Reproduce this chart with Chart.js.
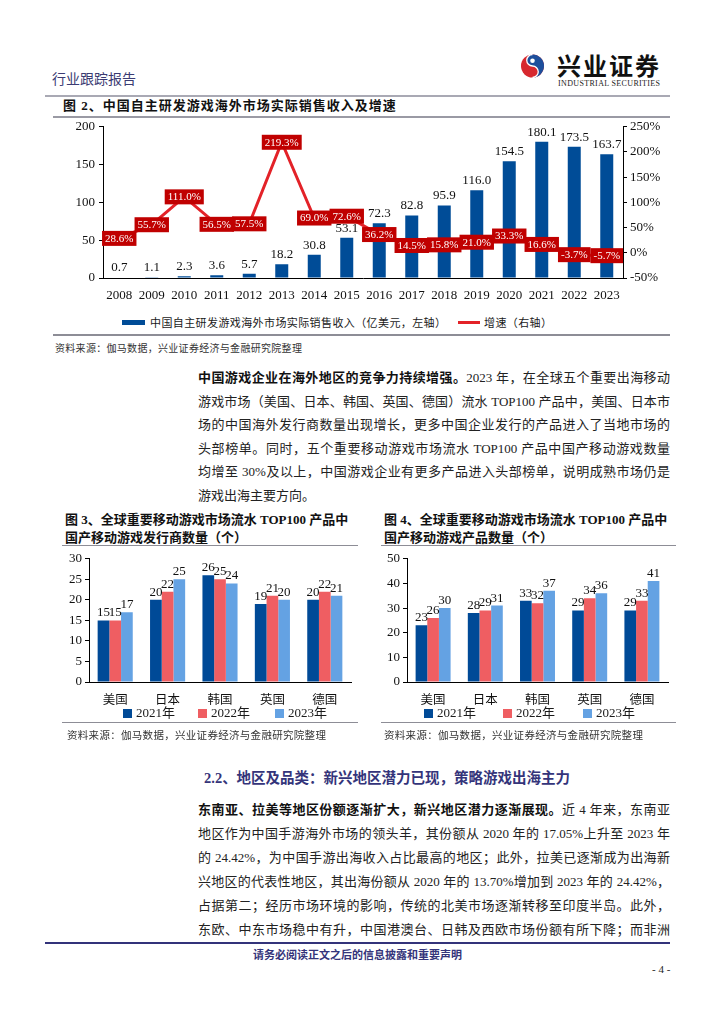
<!DOCTYPE html>
<html>
<head>
<meta charset="utf-8">
<script src="https://cdn.jsdelivr.net/npm/chart.js@4.4.1/dist/chart.umd.min.js"></script>
<style>
  body { margin: 0; background: #fff; }
  #page { position: relative; width: 724px; height: 1024px; overflow: hidden;
          font-family: "Liberation Serif", "Noto Sans CJK SC", serif; color: #1a1a1a; }
  .abs { position: absolute; white-space: nowrap; }
  .rule { position: absolute; height: 0; }
  .line { position: absolute; left: 198px; width: 472px; font-size: 13px; line-height: 20px; color: #222;
          text-align: justify; text-align-last: justify; white-space: nowrap; }
  .line.last { text-align-last: left; }
  .b { font-weight: bold; color: #111; }
  .ftitle { font-size: 13px; font-weight: bold; line-height: 18px; color: #111; }
  .src { font-size: 10px; color: #333; letter-spacing: 0.3px; }
  .leg { font-size: 13px; line-height: 14px; }
  .sw { display: inline-block; width: 9px; height: 9px; margin-right: 4px; vertical-align: -1px; }
  canvas { position: absolute; }
</style>
</head>
<body>
<div id="page">
  <!-- header -->
  <div class="abs" style="left:52px;top:68px;font-size:14px;color:#3b3b72;font-family:'Noto Sans CJK SC';">行业跟踪报告</div>
  <svg class="abs" style="left:521px;top:53px" width="23" height="26" viewBox="0 0 24 26">
    <circle cx="12" cy="13" r="12" fill="#d7282f"/>
    <path d="M12 1 A12 12 0 0 1 12 25 A6 6 0 0 0 12 13 A6 6 0 0 1 12 1 Z" fill="#1d4f9c"/>
    <path d="M12 1 A6 6 0 0 0 12 13 A6 6 0 0 1 12 25" fill="none" stroke="#fff" stroke-width="1.4"/>
    <circle cx="12" cy="7.5" r="2.4" fill="#fff"/>
  </svg>
  <div class="abs" style="left:557px;top:47px;font-size:24px;font-weight:bold;letter-spacing:2px;color:#111;font-family:'Noto Sans CJK SC';">兴业证券</div>
  <div class="abs" style="left:558px;top:79px;font-size:8px;letter-spacing:0.35px;color:#222;">INDUSTRIAL SECURITIES</div>
  <div class="rule" style="left:45px;width:625px;top:95px;border-top:2px solid #a9a9b4"></div>

  <!-- figure 2 -->
  <div class="abs ftitle" style="left:63px;top:97px;letter-spacing:1px">图 2、中国自主研发游戏海外市场实际销售收入及增速</div>
  <div class="rule" style="left:53px;width:617px;top:116px;border-top:2px solid #9a9aa4"></div>
  <canvas id="c1" width="620" height="190" style="left:55px;top:115px"></canvas>
  <div class="abs" style="left:122px;top:320px;width:23px;height:5px;background:#004c97"></div>
  <div class="abs" style="left:150px;top:314px;font-size:11px;line-height:16px;letter-spacing:0.4px;font-family:'Noto Sans CJK SC'">中国自主研发游戏海外市场实际销售收入（亿美元，左轴）</div>
  <div class="abs" style="left:458px;top:321px;width:22px;height:3px;background:#e32228"></div>
  <div class="abs" style="left:484px;top:314px;font-size:11px;line-height:16px;letter-spacing:0.4px;font-family:'Noto Sans CJK SC'">增速（右轴）</div>
  <div class="rule" style="left:53px;width:617px;top:334px;border-top:2px solid #8d8d96"></div>
  <div class="abs src" style="left:55px;top:340px">资料来源：伽马数据，兴业证券经济与金融研究院整理</div>

  <!-- paragraph 1 -->
  <div class="line" style="top:368px"><span class="b">中国游戏企业在海外地区的竞争力持续增强。</span>2023 年，在全球五个重要出海移动</div>
  <div class="line" style="top:392px">游戏市场（美国、日本、韩国、英国、德国）流水 TOP100 产品中，美国、日本市</div>
  <div class="line" style="top:415px">场的中国海外发行商数量出现增长，更多中国企业发行的产品进入了当地市场的</div>
  <div class="line" style="top:439px">头部榜单。同时，五个重要移动游戏市场流水 TOP100 产品中国产移动游戏数量</div>
  <div class="line" style="top:462px">均增至 30%及以上，中国游戏企业有更多产品进入头部榜单，说明成熟市场仍是</div>
  <div class="line last" style="top:486px">游戏出海主要方向。</div>

  <!-- figure 3 -->
  <div class="abs ftitle" style="left:65px;top:511px">图 3、全球重要移动游戏市场流水 TOP100 产品中</div>
  <div class="abs ftitle" style="left:65px;top:529px">国产移动游戏发行商数量（个）</div>
  <div class="rule" style="left:62px;width:296px;top:545px;border-top:1.5px solid #8d8d96"></div>
  <canvas id="c3" width="310" height="172" style="left:55px;top:548px"></canvas>
  <div class="abs leg" style="left:123px;top:706px"><span class="sw" style="background:#004a97"></span>2021年</div>
  <div class="abs leg" style="left:198px;top:706px"><span class="sw" style="background:#ef5e62"></span>2022年</div>
  <div class="abs leg" style="left:275px;top:706px"><span class="sw" style="background:#64a2e3"></span>2023年</div>
  <div class="rule" style="left:62px;width:296px;top:722px;border-top:1.5px solid #8d8d96"></div>
  <div class="abs src" style="left:67px;top:727px;font-size:10.5px">资料来源：伽马数据，兴业证券经济与金融研究院整理</div>

  <!-- figure 4 -->
  <div class="abs ftitle" style="left:384px;top:511px">图 4、全球重要移动游戏市场流水 TOP100 产品中</div>
  <div class="abs ftitle" style="left:384px;top:529px">国产移动游戏产品数量（个）</div>
  <div class="rule" style="left:381px;width:295px;top:545px;border-top:1.5px solid #8d8d96"></div>
  <canvas id="c4" width="310" height="172" style="left:374px;top:548px"></canvas>
  <div class="abs leg" style="left:424px;top:706px"><span class="sw" style="background:#004a97"></span>2021年</div>
  <div class="abs leg" style="left:503px;top:706px"><span class="sw" style="background:#ef5e62"></span>2022年</div>
  <div class="abs leg" style="left:583px;top:706px"><span class="sw" style="background:#64a2e3"></span>2023年</div>
  <div class="rule" style="left:381px;width:295px;top:722px;border-top:1.5px solid #8d8d96"></div>
  <div class="abs src" style="left:384px;top:727px;font-size:10.5px">资料来源：伽马数据，兴业证券经济与金融研究院整理</div>

  <!-- section 2.2 -->
  <div class="abs" style="left:204px;top:766px;font-size:14.5px;font-weight:bold;color:#34347a">2.2、地区及品类：新兴地区潜力已现，策略游戏出海主力</div>
  <div class="line" style="top:800px"><span class="b">东南亚、拉美等地区份额逐渐扩大，新兴地区潜力逐渐展现。</span>近 4 年来，东南亚</div>
  <div class="line" style="top:824px">地区作为中国手游海外市场的领头羊，其份额从 2020 年的 17.05%上升至 2023 年</div>
  <div class="line" style="top:848px">的 24.42%，为中国手游出海收入占比最高的地区；此外，拉美已逐渐成为出海新</div>
  <div class="line" style="top:872px">兴地区的代表性地区，其出海份额从 2020 年的 13.70%增加到 2023 年的 24.42%，</div>
  <div class="line" style="top:896px">占据第二；经历市场环境的影响，传统的北美市场逐渐转移至印度半岛。此外，</div>
  <div class="line" style="top:920px">东欧、中东市场稳中有升，中国港澳台、日韩及西欧市场份额有所下降；而非洲</div>

  <!-- footer -->
  <div class="rule" style="left:45px;width:625px;top:942px;border-top:2px solid #33337a"></div>
  <div class="abs" style="left:253px;top:946px;font-size:11px;font-weight:bold;color:#34347a;font-family:'Noto Sans CJK SC'">请务必阅读正文之后的信息披露和重要声明</div>
  <div class="abs" style="left:652px;top:963px;font-size:11px;color:#222">- 4 -</div>
</div>

<script>
// figure 2 data
const years = ['2008','2009','2010','2011','2012','2013','2014','2015','2016','2017','2018','2019','2020','2021','2022','2023']
const revenue = [0.7, 1.1, 2.3, 3.6, 5.7, 18.2, 30.8, 53.1, 72.3, 82.8, 95.9, 116.0, 154.5, 180.1, 173.5, 163.7]
const growth = [28.6, 55.7, 111.0, 56.5, 57.5, 219.3, 69.0, 72.6, 36.2, 14.5, 15.8, 21.0, 33.3, 16.6, -3.7, -5.7]
const leftTicks = [0, 200, 50]      // min, max, step
const rightTicks = [-50, 250, 50]

// figure 3 / 4 data
const markets = ['美国', '日本', '韩国', '英国', '德国']
const publishers2021 = [15, 20, 26, 19, 20]
const publishers2022 = [15, 22, 25, 21, 22]
const publishers2023 = [17, 25, 24, 20, 21]
const products2021 = [23, 28, 33, 29, 29]
const products2022 = [26, 29, 32, 34, 33]
const products2023 = [30, 31, 37, 36, 41]

const SERIF = '"Liberation Serif", "Noto Sans CJK SC", serif'
Chart.defaults.font.family = SERIF
Chart.defaults.color = '#111'
Chart.defaults.animation = false

// draws value labels; a dataset opts in with labelStyle
const valueLabels = {
    id: 'valueLabels',
    afterDatasetsDraw(chart){
        const ctx = chart.ctx
        chart.data.datasets.forEach((ds, i) => {
            const st = ds.labelStyle
            if(!st) return
            const meta = chart.getDatasetMeta(i)
            meta.data.forEach((el, j) => {
                const txt = st.format(ds.data[j])
                ctx.save()
                ctx.font = st.font
                ctx.textAlign = 'center'
                if(st.box){
                    const w = ctx.measureText(txt).width + 6
                    const h = 15
                    ctx.fillStyle = st.box
                    ctx.fillRect(el.x - w/2, el.y - h/2, w, h)
                    ctx.fillStyle = '#fff'
                    ctx.textBaseline = 'middle'
                    ctx.fillText(txt, el.x, el.y + 0.5)
                } else {
                    ctx.fillStyle = st.color
                    ctx.textBaseline = 'bottom'
                    ctx.fillText(txt, el.x, el.y - st.offset)
                }
                ctx.restore()
            })
        })
    }
}

function fixWidth(w){ return scale => { scale.width = w } }
function fixHeight(h){ return scale => { scale.height = h } }

new Chart(document.getElementById('c1').getContext('2d'), {
    type: 'bar',
    data: {
        labels: years,
        datasets: [{
            type: 'bar',
            label: '中国自主研发游戏海外市场实际销售收入（亿美元，左轴）',
            data: revenue,
            yAxisID: 'y',
            backgroundColor: '#004c97',
            barPercentage: 0.4,
            categoryPercentage: 1,
            order: 1,
            labelStyle: { font: '13px ' + SERIF, color: '#111', offset: 3, format: v => v.toFixed(1) }
        }, {
            type: 'line',
            label: '增速（右轴）',
            data: growth,
            yAxisID: 'y1',
            borderColor: '#e32228',
            borderWidth: 3,
            pointRadius: 0,
            tension: 0,
            order: 0,
            labelStyle: { font: '11px ' + SERIF, box: '#c00000', format: v => v.toFixed(1) + '%' }
        }]
    },
    options: {
        responsive: false,
        layout: { padding: { top: 10, bottom: 0, left: 0, right: 0 } },
        plugins: { legend: { display: false }, tooltip: { enabled: false } },
        scales: {
            x: {
                grid: { display: false },
                border: { display: true, color: '#000' },
                ticks: { font: { size: 13 }, padding: 2, maxRotation: 0, autoSkip: false },
                afterFit: fixHeight(27)
            },
            y: {
                position: 'left',
                min: leftTicks[0], max: leftTicks[1],
                ticks: { stepSize: leftTicks[2], font: { size: 13 }, padding: 4 },
                grid: { drawOnChartArea: false, tickLength: 4, color: '#000' },
                border: { color: '#000' },
                afterFit: fixWidth(48)
            },
            y1: {
                position: 'right',
                min: rightTicks[0], max: rightTicks[1],
                ticks: { stepSize: rightTicks[2], font: { size: 13 }, padding: 3, callback: v => v + '%' },
                grid: { drawOnChartArea: false, tickLength: 4, color: '#000' },
                border: { color: '#000' },
                afterFit: fixWidth(52)
            }
        }
    },
    plugins: [valueLabels]
})

function groupChart(id, a, b, c, max, step, leftW, rightPad){
    const lab = { font: '13px ' + SERIF, color: '#111', offset: 1, format: v => String(v) }
    const common = { barPercentage: 1, categoryPercentage: 0.67, borderWidth: 0, labelStyle: lab }
    return new Chart(document.getElementById(id).getContext('2d'), {
        type: 'bar',
        data: {
            labels: markets,
            datasets: [
                Object.assign({ label: '2021年', data: a, backgroundColor: '#004a97' }, common),
                Object.assign({ label: '2022年', data: b, backgroundColor: '#ef5e62' }, common),
                Object.assign({ label: '2023年', data: c, backgroundColor: '#64a2e3' }, common)
            ]
        },
        options: {
            responsive: false,
            layout: { padding: { top: 10, right: rightPad } },
            plugins: { legend: { display: false }, tooltip: { enabled: false } },
            scales: {
                x: {
                    grid: { display: false },
                    border: { display: true, color: '#000' },
                    ticks: { font: { size: 12.5, family: '"Noto Sans CJK SC"' }, padding: 2, maxRotation: 0 },
                    afterFit: fixHeight(38)
                },
                y: {
                    min: 0, max: max,
                    ticks: { stepSize: step, font: { size: 13 }, padding: 3 },
                    grid: { drawOnChartArea: false, tickLength: 4, color: '#000' },
                    border: { color: '#000' },
                    afterFit: fixWidth(leftW)
                }
            }
        },
        plugins: [valueLabels]
    })
}

groupChart('c3', publishers2021, publishers2022, publishers2023, 30, 5, 34, 14)
groupChart('c4', products2021, products2022, products2023, 50, 10, 33, 16)
</script>
</body>
</html>
